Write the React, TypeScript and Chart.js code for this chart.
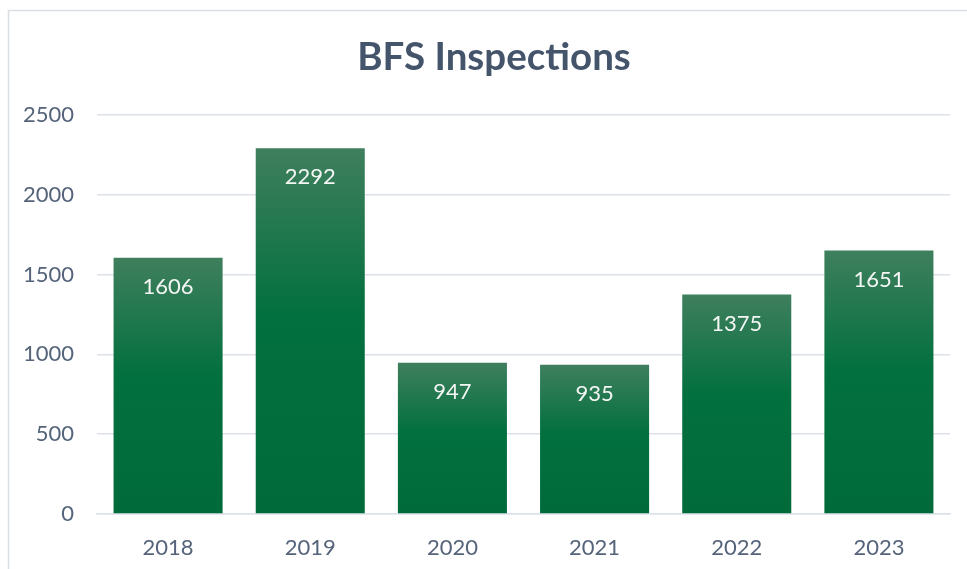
import React, { useEffect, useRef } from "react";
import { Chart, registerables } from "chart.js";

Chart.register(...registerables);

const categories = ["2018", "2019", "2020", "2021", "2022", "2023"];
const inspections = [1606, 2292, 947, 935, 1375, 1651];
const yTicks = [0, 500, 1000, 1500, 2000, 2500];
const titleText = "BFS Inspections";

const FONT = "Lato, 'Open Sans', sans-serif";
const TEXT_COLOR = "#44546a";
const TICK_COLOR = "#55647a";
const GRID_COLOR = "#dde1e9";

export default function App() {
  const ref = useRef<HTMLCanvasElement | null>(null);

  useEffect(() => {
    const canvas = ref.current;
    if (!canvas) return;

    const framePlugin = {
      id: "frame",
      beforeDraw(chart: any) {
        const ctx = chart.ctx;
        ctx.save();
        ctx.fillStyle = "#ffffff";
        ctx.fillRect(0, 0, chart.width, chart.height);
        ctx.strokeStyle = "#d9dde4";
        ctx.lineWidth = 1.5;
        ctx.beginPath();
        ctx.moveTo(8.5, chart.height + 5);
        ctx.lineTo(8.5, 10.5);
        ctx.lineTo(chart.width + 5, 10.5);
        ctx.stroke();
        ctx.fillStyle = TEXT_COLOR;
        ctx.font = `bold 38.5px ${FONT}`;
        ctx.textAlign = "center";
        ctx.textBaseline = "middle";
        ctx.fillText(titleText, 494, 58);
        ctx.restore();
      },
    };

    const labelPlugin = {
      id: "barLabels",
      afterDatasetsDraw(chart: any) {
        const ctx = chart.ctx;
        const meta = chart.getDatasetMeta(0);
        ctx.save();
        ctx.fillStyle = "#f4f6f4";
        ctx.font = `22px ${FONT}`;
        ctx.textAlign = "center";
        ctx.textBaseline = "middle";
        meta.data.forEach((el: any, i: number) => {
          ctx.fillText(String(inspections[i]), el.x, el.y + 29);
        });
        ctx.restore();
      },
    };

    const chart = new Chart(canvas, {
      type: "bar",
      data: {
        labels: categories,
        datasets: [
          {
            data: inspections,
            backgroundColor: (context: any) => {
              const c = context.chart;
              const yScale = c.scales && c.scales.y;
              if (!yScale || context.raw === undefined) return "#00703f";
              const top = yScale.getPixelForValue(context.raw);
              const bottom = yScale.getPixelForValue(0);
              if (!isFinite(top) || !isFinite(bottom) || top === bottom) return "#00703f";
              const g = c.ctx.createLinearGradient(0, top, 0, bottom);
              g.addColorStop(0, "#3f7f5e");
              g.addColorStop(0.45, "#03703f");
              g.addColorStop(1, "#006a3a");
              return g;
            },
            borderWidth: 0,
            barPercentage: 0.767,
            categoryPercentage: 1,
          },
        ],
      },
      options: {
        responsive: false,
        animation: false,
        layout: { padding: { top: 115, right: 17, left: 0, bottom: 0 } },
        plugins: {
          legend: { display: false },
          title: { display: false },
          tooltip: { enabled: false },
        },
        scales: {
          x: {
            grid: { display: false, drawTicks: false },
            border: { display: true, color: GRID_COLOR, width: 1.5 },
            ticks: {
              color: TICK_COLOR,
              font: { family: FONT, size: 22 },
              padding: 21,
            },
            afterFit(scale: any) {
              scale.height = 55;
            },
          },
          y: {
            min: 0,
            max: 2500,
            afterBuildTicks(scale: any) {
              scale.ticks = yTicks.map((v) => ({ value: v }));
            },
            grid: { color: GRID_COLOR, lineWidth: 1.5, drawTicks: false },
            border: { display: false },
            ticks: {
              color: TICK_COLOR,
              font: { family: FONT, size: 22 },
              padding: 23,
              callback: (v: any) => String(v),
            },
            afterFit(scale: any) {
              scale.width = 97;
            },
          },
        },
      },
      plugins: [framePlugin, labelPlugin],
    });

    return () => chart.destroy();
  }, []);

  return (
    <div style={{ position: "absolute", left: 0, top: 0, width: 967, height: 569 }}>
      <canvas ref={ref} width={967} height={569} />
    </div>
  );
}
